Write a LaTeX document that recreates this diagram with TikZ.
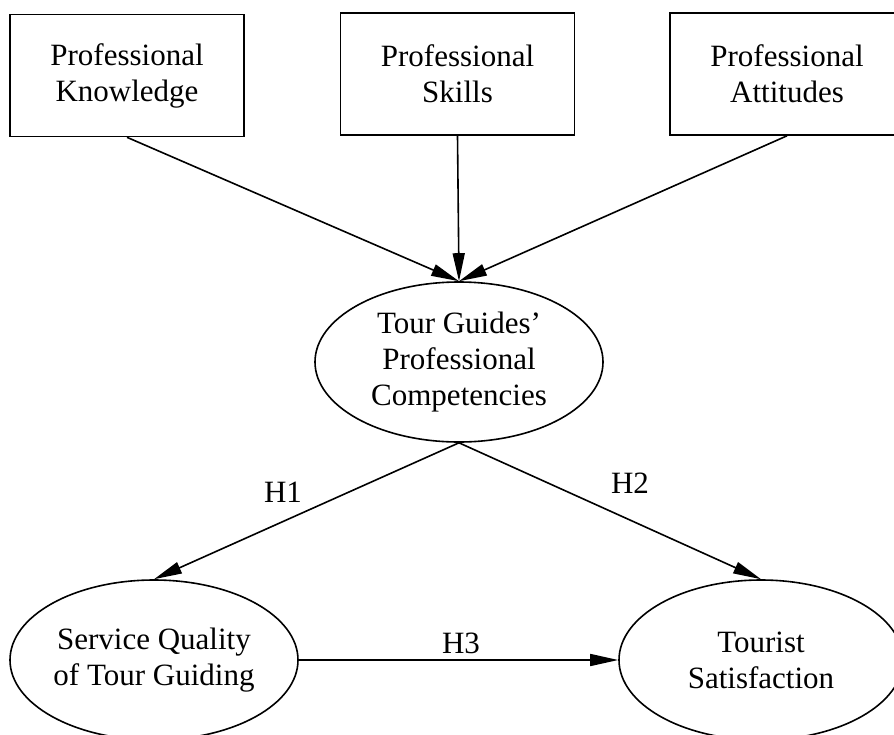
\documentclass[tikz,border=0pt]{standalone}
\usepackage{fontspec}
\setmainfont{Liberation Serif}
\usetikzlibrary{shapes.geometric,arrows.meta}
\begin{document}
\begin{tikzpicture}[x=1pt,y=-1pt,
  every node/.style={font=\fontsize{31}{36}\selectfont, align=center, inner sep=0pt},
  boxnode/.style={draw, line width=1.6pt, minimum width=234pt, minimum height=122pt},
  ellnode/.style={draw, ellipse, line width=1.6pt, minimum width=288pt, minimum height=160pt},
  conn/.style={line width=1.6pt, -{Triangle[length=28pt,width=12pt]}},
  lab/.style={}]
\useasboundingbox (0,0) rectangle (894,734);
\node[boxnode] (pk) at (127,75.5) {Professional\\Knowledge};
\node[boxnode] (ps) at (457.5,74) {Professional\\Skills};
\node[boxnode] (pa) at (787,74) {Professional\\Attitudes};
\node[ellnode] (tgc) at (459,362) {Tour Guides’\\Professional\\Competencies};
\node[ellnode] (sq) at (154,660) {Service Quality\\of Tour Guiding};
\node[ellnode, minimum width=284pt] (ts) at (761,660) {Tourist\\Satisfaction};
\draw[conn] (pk.south) -- (tgc.north);
\draw[conn] (ps.south) -- (tgc.north);
\draw[conn] (pa.south) -- (tgc.north);
\draw[conn] (tgc.south) -- (sq.north);
\draw[conn] (tgc.south) -- (ts.north);
\draw[conn] (sq.east) -- (ts.west);
\node[lab] (h1) at (283,492) {H1};
\node[lab] (h2) at (630,483) {H2};
\node[lab] (h3) at (461,643) {H3};
\end{tikzpicture}
\end{document}
